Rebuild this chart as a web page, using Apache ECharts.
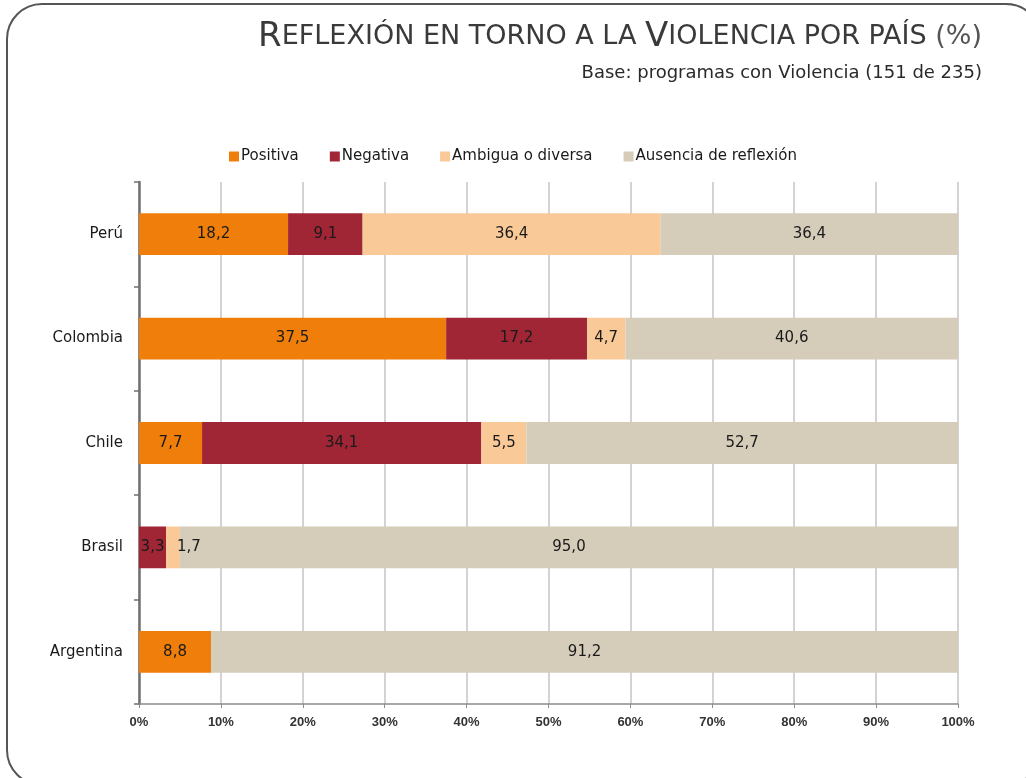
<!DOCTYPE html>
<html>
<head>
<meta charset="utf-8">
<script src="https://cdn.jsdelivr.net/npm/echarts@6/dist/echarts.min.js"></script>
<style>
  html, body { margin: 0; padding: 0; background: #fff; }
  #chart { width: 1026px; height: 778px; }
</style>
</head>
<body>
<div id="chart"></div>
<script>
// datos
const paises = ["Perú", "Colombia", "Chile", "Brasil", "Argentina"];
const positiva = [18.2, 37.5, 7.7, 0, 8.8];
const negativa = [9.1, 17.2, 34.1, 3.3, 0];
const ambigua = [36.4, 4.7, 5.5, 1.7, 0];
const ausencia = [36.4, 40.6, 52.7, 95.0, 91.2];
const ticksX = [0, 10, 20, 30, 40, 50, 60, 70, 80, 90, 100];

const fuente = '"DejaVu Sans", "Liberation Sans", Arial, sans-serif';

function serie(nombre, valores, color) {
  return {
    name: nombre,
    type: "bar",
    stack: "total",
    barWidth: "40%",
    itemStyle: { color: color },
    label: {
      show: true,
      position: "inside",
      color: "#1a1a1a",
      fontFamily: fuente,
      fontSize: 15,
      formatter: function (p) {
        return p.value > 0 ? p.value.toFixed(1).replace(".", ",") : "";
      }
    },
    data: valores.map(function (v) { return v; })
  };
}

const series = [
  serie("Positiva", positiva, "#EF7F0A"),
  serie("Negativa", negativa, "#A02636"),
  serie("Ambigua o diversa", ambigua, "#FAC998"),
  serie("Ausencia de reflexión", ausencia, "#D5CCBA")
];
// la etiqueta 1,7 de Brasil queda a la derecha del segmento
series[2].data[3] = { value: ambigua[3], label: { offset: [16, 0] } };

const chart = echarts.init(document.getElementById("chart"));
chart.setOption({
  animation: false,
  textStyle: { fontFamily: fuente },
  graphic: [
    {
      type: "rect",
      shape: { x: 7, y: 4, width: 1034, height: 781, r: 35 },
      style: { fill: "none", stroke: "#555", lineWidth: 2 },
      z: -1
    },
    {
      type: "text",
      right: 44,
      top: 20,
      style: {
        text: "{b|R}{s|EFLEXIÓN EN TORNO A LA }{b|V}{s|IOLENCIA POR PAÍS }{p|(%)}",
        rich: {
          b: { fontSize: 34, fontFamily: fuente, fill: "#3a3a3a" },
          s: { fontSize: 27, fontFamily: fuente, fill: "#3a3a3a" },
          p: { fontSize: 27, fontFamily: fuente, fill: "#555" }
        }
      }
    },
    {
      type: "text",
      right: 44,
      top: 64,
      style: {
        text: "Base: programas con Violencia (151 de 235)",
        fontSize: 18,
        fontFamily: fuente,
        fill: "#2a2a2a"
      }
    }
  ],
  legend: {
    top: 144,
    left: "center",
    itemWidth: 10,
    itemHeight: 10,
    itemGap: 31,
    icon: "rect",
    textStyle: { fontSize: 15, color: "#1a1a1a", fontFamily: fuente, padding: [0, 0, 0, -3] }
  },
  grid: { left: 139, right: 68, top: 182, bottom: 74 },
  xAxis: {
    type: "value",
    min: 0,
    max: 100,
    interval: 10,
    axisLine: { show: true, lineStyle: { color: "#8c8c8c", width: 1.5 } },
    axisTick: { show: true, length: 4, lineStyle: { color: "#8c8c8c" } },
    axisLabel: {
      color: "#333",
      fontSize: 13,
      fontFamily: '"Liberation Sans", Arial, sans-serif',
      fontWeight: "bold",
      margin: 12,
      formatter: function (v) { return ticksX.indexOf(v) >= 0 ? v + "%" : ""; }
    },
    splitLine: { show: true, lineStyle: { color: "#c4c4c4", width: 1.5 } }
  },
  yAxis: {
    type: "category",
    inverse: true,
    data: paises,
    axisLine: { show: true, lineStyle: { color: "#707070", width: 2.5 } },
    axisTick: { show: true, length: 5, lineStyle: { color: "#707070", width: 1.5 } },
    axisLabel: { color: "#1a1a1a", fontSize: 15, margin: 16 }
  },
  series: series
});
</script>
</body>
</html>
